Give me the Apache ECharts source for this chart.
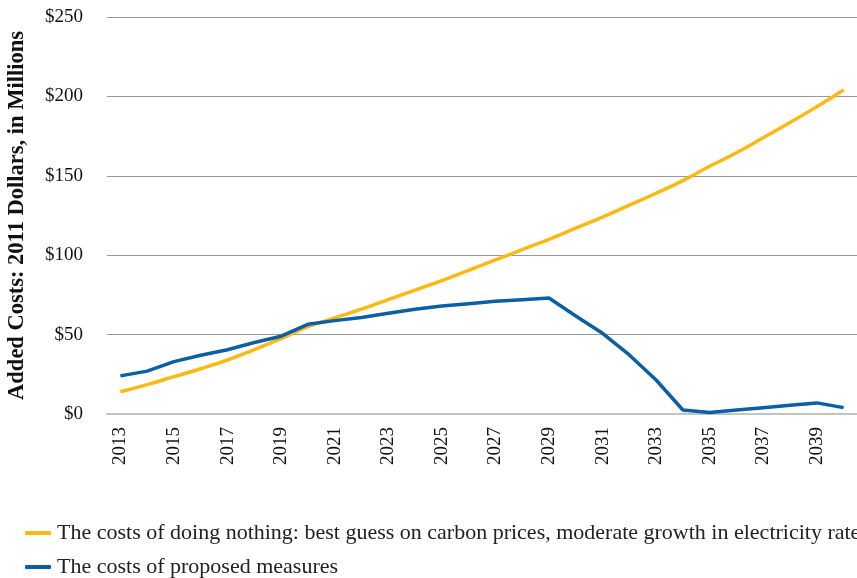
<!DOCTYPE html>
<html>
<head>
<meta charset="utf-8">
<script src="https://cdn.jsdelivr.net/npm/echarts@6/dist/echarts.min.js"></script>
<style>
  html, body { margin: 0; padding: 0; background: #fff; }
  #chart { width: 857px; height: 578px; }
</style>
</head>
<body>
<div id="chart"></div>
<script>
var years = ['2013', '2014', '2015', '2016', '2017', '2018', '2019', '2020', '2021', '2022',
  '2023', '2024', '2025', '2026', '2027', '2028', '2029', '2030', '2031', '2032',
  '2033', '2034', '2035', '2036', '2037', '2038', '2039', '2040'];
// costs of doing nothing
var doingNothing = [14, 18.5, 23.5, 28.5, 34, 40.5, 47.5, 55, 60.5, 66,
  72, 78, 84, 90.5, 97, 103.5, 110, 117, 124, 131.5,
  139, 147, 156, 164.5, 174, 183.5, 193.5, 204];
// costs of proposed measures
var proposed = [24, 27, 33, 37, 40.5, 45, 49, 56.5, 58.8, 60.8,
  63.4, 66, 68, 69.5, 71, 72, 73, 61.7, 50.8, 37.2,
  21.4, 2.5, 1, 2.5, 4, 5.5, 7, 4];
var seriesNames = [
  'The costs of doing nothing: best guess on carbon prices, moderate growth in electricity rate',
  'The costs of proposed measures'
];

var serif = '"Liberation Serif", "DejaVu Serif", serif';
var chart = echarts.init(document.getElementById('chart'), null, { renderer: 'canvas' });

// one legend per row so the long first entry can't push the second one away
function legendRow(name, top) {
  return {
    orient: 'horizontal',
    left: 25,
    top: top,
    padding: 0,
    itemWidth: 26,
    itemHeight: 4,
    icon: 'roundRect',
    textStyle: {
      fontFamily: serif,
      fontSize: 22,
      color: '#222',
      padding: [0, 0, 0, 1]
    },
    data: [name]
  };
}

var option = {
  animation: false,
  color: ['#FDB813', '#0B5FA5'],
  grid: {
    left: 107,
    right: 0,
    top: 17,
    bottom: 164,
    outerBoundsMode: 'none'
  },
  legend: [legendRow(seriesNames[0], 522), legendRow(seriesNames[1], 556)],
  xAxis: {
    type: 'category',
    boundaryGap: true,
    data: years,
    axisTick: { show: false },
    axisLine: { lineStyle: { color: '#c4c4c4', width: 2 } },
    axisLabel: {
      interval: 1,
      rotate: 90,
      margin: 13,
      fontFamily: serif,
      fontSize: 19,
      color: '#111'
    }
  },
  yAxis: {
    type: 'value',
    min: 0,
    max: 250,
    interval: 50,
    name: 'Added Costs: 2011 Dollars, in Millions',
    nameLocation: 'middle',
    nameGap: 78,
    nameTextStyle: {
      fontFamily: serif,
      fontSize: 22.5,
      fontWeight: 'bold',
      color: '#111'
    },
    axisLine: { show: false },
    axisTick: { show: false },
    splitLine: { lineStyle: { color: '#999', width: 1 } },
    axisLabel: {
      margin: 24,
      fontFamily: serif,
      fontSize: 19,
      color: '#111',
      formatter: function (v) { return '$' + v; }
    }
  },
  series: [{
    name: seriesNames[0],
    type: 'line',
    data: doingNothing,
    symbol: 'none',
    smooth: true,
    lineStyle: { width: 3.5 }
  }, {
    name: seriesNames[1],
    type: 'line',
    data: proposed,
    symbol: 'none',
    lineStyle: { width: 3.5 }
  }]
};
chart.setOption(option);
</script>
</body>
</html>
